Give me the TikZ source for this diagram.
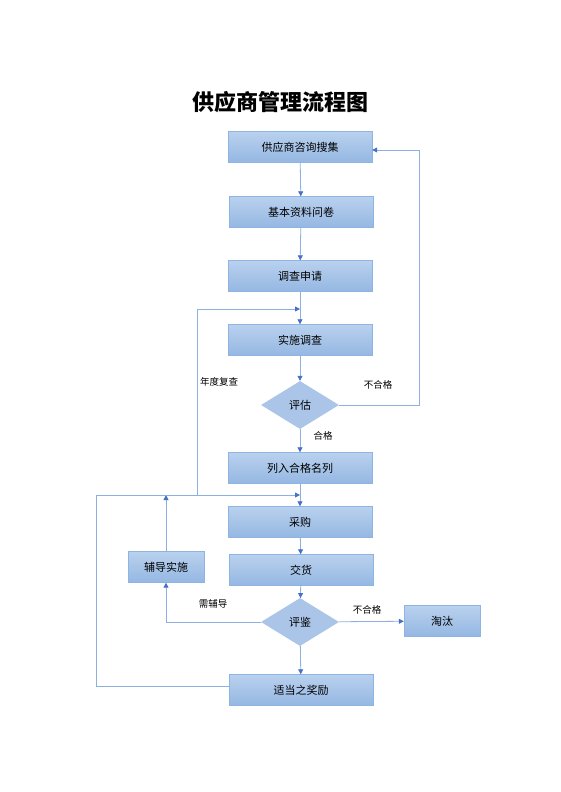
\documentclass[tikz,border=0pt]{standalone}
\usepackage{fontspec}
\newfontfamily\cjk{Noto Sans CJK SC}
\usetikzlibrary{shapes.geometric,arrows.meta,shadings}
\definecolor{boxtop}{HTML}{B9D1EE}
\definecolor{boxbot}{HTML}{95B7E2}
\definecolor{boxline}{HTML}{8EB4E3}
\definecolor{wire}{HTML}{8EB0E0}
\definecolor{tip}{HTML}{4472C4}
\begin{document}
\begin{tikzpicture}[x=1pt,y=-1pt,
  box/.style={draw=boxline,top color=boxtop,bottom color=boxbot,minimum width=144pt,minimum height=31pt,inner sep=0pt,font=\cjk\fontsize{11}{13}\selectfont},
  smallbox/.style={box,minimum width=76pt},
  decision/.style={diamond,draw=none,fill=boxbot!80!white,minimum width=78pt,minimum height=48pt,inner sep=0pt,aspect=1.6,font=\cjk\fontsize{11}{13}\selectfont},
  line/.style={draw=wire,thick,-{Triangle[length=5pt,width=5pt,color=tip]}},
  plain/.style={draw=wire,thick},
  tag/.style={font=\cjk\fontsize{9.5}{11}\selectfont}]
\useasboundingbox (0,0) rectangle (560,792);
\node[font=\cjk\bfseries\fontsize{22}{26}\selectfont] (title) at (280,102) {供应商管理流程图};
% main column
\node[box] (collect) at (300,147) {供应商咨询搜集};
\node[box] (form) at (301,212) {基本资料问卷};
\node[box] (apply) at (300,276) {调查申请};
\node[box] (survey) at (300,340) {实施调查};
\node[decision] (eval) at (300,405) {评估};
\node[box] (list) at (300,468) {列入合格名列};
\node[box] (buy) at (300,522) {采购};
\node[box] (deliver) at (301,570) {交货};
\node[decision] (rate) at (300,622) {评鉴};
\node[box] (reward) at (301,690) {适当之奖励};
\node[smallbox] (tutor) at (166,567) {辅导实施};
\node[smallbox] (drop) at (442,621) {淘汰};
\path (300,309) coordinate (j2) (300,495) coordinate (j1);
\draw[line] (collect) -- (form);
\draw[line] (form) -- (apply);
\draw[line] (apply) -- (survey);
\draw[line] (survey) -- (eval);
\draw[line] (eval) -- (list);
\draw[line] (list) -- (buy);
\draw[line] (buy) -- (deliver);
\draw[line] (deliver) -- (rate);
\draw[line] (rate) -- (reward);
\draw[line] (rate) -- (drop);
\draw[line] (eval.east) -- ++(80,0) |- ([yshift=-3pt]collect.east);
\draw[line] (rate.west) -| (tutor.south);
\draw[line] (tutor.north) -- (tutor.north |- j1);
\draw[line] ([yshift=4pt]reward.west) -| (96,495) -- (j1);
\draw[line] (197,495) |- (j2);
% labels
\node[tag] (fail1) at (378,385) {不合格};
\node[tag] (pass) at (323,436) {合格};
\node[tag] (yearly) at (219,382) {年度复查};
\node[tag] (help) at (213,604) {需辅导};
\node[tag] (fail2) at (367,610) {不合格};
\end{tikzpicture}
\end{document}
